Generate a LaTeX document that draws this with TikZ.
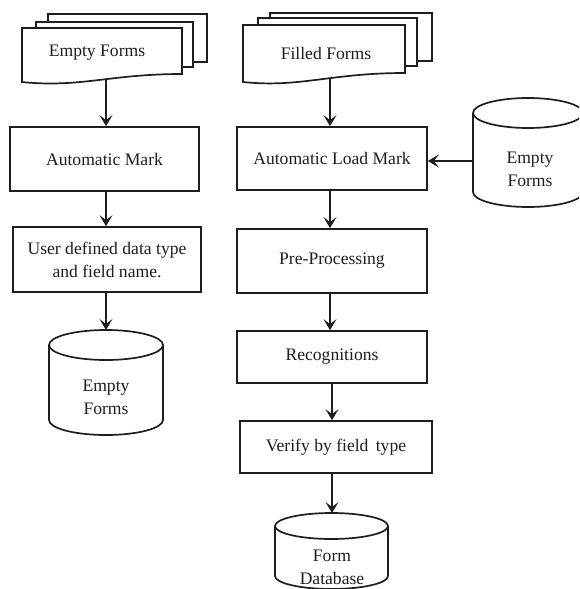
\documentclass[tikz,border=0pt]{standalone}
\usepackage{fontspec}
\setmainfont{Liberation Serif}
\usetikzlibrary{arrows.meta}
\definecolor{ink}{RGB}{30,30,30}
\begin{document}
\begin{tikzpicture}[x=1pt,y=-1pt, line width=1.7pt, draw=ink, text=ink,
  box/.style={draw=ink, rectangle, inner sep=0pt, font=\fontsize{17.6}{23}\selectfont, align=center},
  lbl/.style={inner sep=0pt, font=\fontsize{17.6}{23}\selectfont, align=center},
  arr/.style={draw=ink, -{Stealth[length=11pt,width=13pt,inset=5pt]}},
  sheet/.style={draw=ink, fill=white, line join=miter}]
\useasboundingbox (0,0) rectangle (579,589);
\clip (0,0) rectangle (579,589);
\fill[white] (0,0) rectangle (579,589);

% ---- left column ----
\draw[sheet] (48,14) rectangle (207,62);
\draw[sheet] (36,22) rectangle (193,67);
\draw[sheet] (22,28) -- (182,28) -- (182,74) .. controls (110,74) and (80,88) .. (22,82) -- cycle;
\node[lbl] (ef) at (97,53) {Empty Forms};
\coordinate (efb) at (106,79);

\node[box, minimum width=189pt, minimum height=64pt] (am) at (104.5,159) {Automatic Mark};
\node[box, minimum width=188pt, minimum height=65pt] (ud) at (107,259.5) {User defined data type\\and field name.};

\draw (49,345) -- (49,420) arc[start angle=180, end angle=360, x radius=57pt, y radius=15pt] -- (163,345);
\draw (106,345) ellipse [x radius=57pt, y radius=15pt];
\node[lbl] (cl) at (106,397) {Empty\\Forms};
\coordinate (clt) at (106,330);

\coordinate (colL) at (106,0);
\draw[arr] (efb) -- (am.north -| colL);
\draw[arr] (am.south -| colL) -- (ud.north -| colL);
\draw[arr] (ud.south -| colL) -- (clt);

% ---- right column ----
\draw[sheet] (270,13) rectangle (432,61);
\draw[sheet] (258,18) rectangle (417,66);
\draw[sheet] (243,25) -- (405,25) -- (405,73) .. controls (330,73) and (300,88) .. (243,82) -- cycle;
\node[lbl] (ff) at (326,53) {Filled Forms};
\coordinate (ffb) at (330,78);

\node[box, minimum width=190pt, minimum height=63pt] (alm) at (332,158.5) {Automatic Load Mark};
\node[box, minimum width=190pt, minimum height=64pt] (pp) at (332,261) {Pre-Processing};
\node[box, minimum width=190pt, minimum height=52pt] (rec) at (332,357) {Recognitions};
\node[box, minimum width=192pt, minimum height=52pt] (ver) at (336,447) {Verify by field\, type};

\draw (473,113) -- (473,192) arc[start angle=180, end angle=360, x radius=55pt, y radius=15pt] -- (583,113);
\draw (528,113) ellipse [x radius=55pt, y radius=15pt];
\node[lbl] (cr) at (530,169) {Empty\\Forms};
\coordinate (crl) at (473,161);

\draw (275,526) -- (275,576) arc[start angle=180, end angle=360, x radius=56.5pt, y radius=13pt] -- (388,526);
\draw (331.5,526) ellipse [x radius=56.5pt, y radius=13pt];
\node[lbl] (db) at (332,567) {Form\\Database};
\coordinate (dbt) at (332,513);

\coordinate (colR) at (330,0);
\coordinate (colR2) at (332,0);
\draw[arr] (ffb) -- (alm.north -| colR);
\draw[arr] (alm.south -| colR) -- (pp.north -| colR);
\draw[arr] (pp.south -| colR) -- (rec.north -| colR);
\draw[arr] (rec.south -| colR2) -- (ver.north -| colR2);
\draw[arr] (ver.south -| colR2) -- (dbt);
\draw[arr] (crl) -- (crl -| alm.east);
\end{tikzpicture}
\end{document}
